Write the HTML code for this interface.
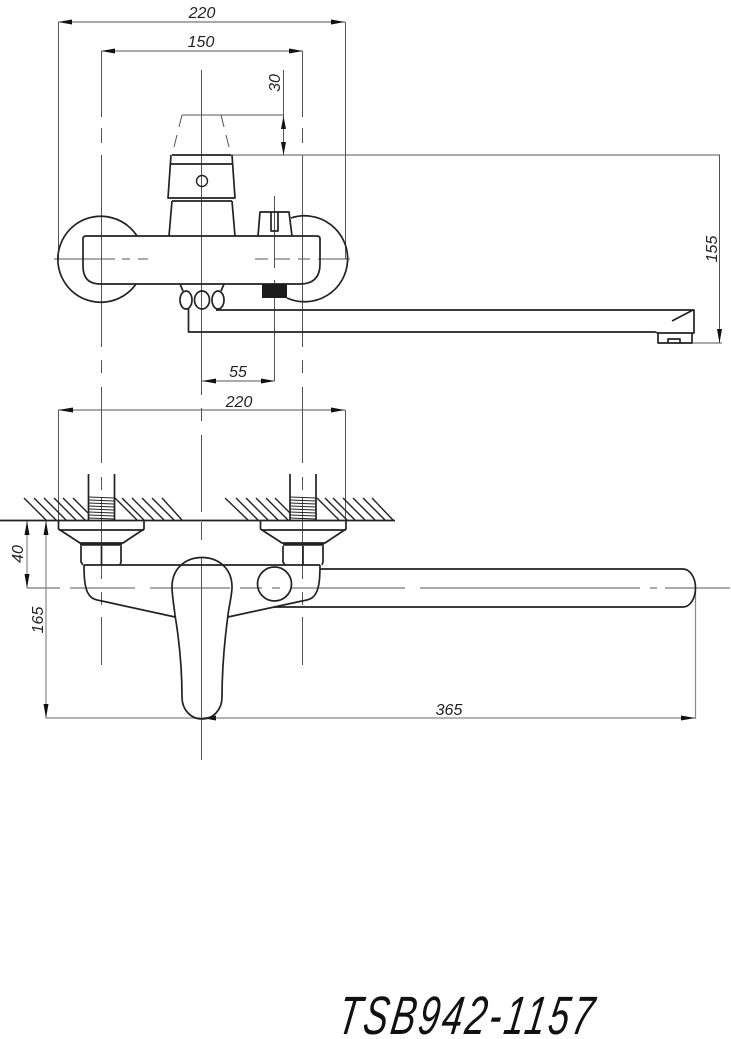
<!DOCTYPE html>
<html><head><meta charset="utf-8"><style>
html,body{margin:0;padding:0;background:#fff;width:731px;height:1039px;overflow:hidden}
svg{display:block}
text{font-family:"Liberation Sans",sans-serif;font-style:italic;fill:#222;font-size:16px}
.t{fill:none;stroke:#555;stroke-width:1}
.g{fill:none;stroke:#888;stroke-width:1.2}
.k{fill:none;stroke:#222;stroke-width:1.7;stroke-linejoin:round}
.h{fill:none;stroke:#222;stroke-width:1.4}
.a{fill:#111;stroke:none}
</style></head><body>
<svg width="731" height="1039" viewBox="0 0 731 1039" xmlns="http://www.w3.org/2000/svg">
<rect width="731" height="1039" fill="#fff"/>

<!-- Top view: dimension and centre lines -->
<path class="t" d="M58.5 22H345M101.5 51H302.5M58.5 22V259M345.5 22V259
M101.5 51V117M101.5 128V143M101.5 155V347M101.5 360V373M101.5 387V463M101.5 477V490M101.5 497V579M101.5 592V605M101.5 617V665
M302.5 51V117M302.5 128V143M302.5 155V347M302.5 360V373M302.5 387V463M302.5 477V490M302.5 497V579M302.5 592V605M302.5 617V665
M201.5 70V395M201.5 408V421M201.5 435V512M201.5 522V540M201.5 557V760
M283.5 70V155M182 115H283.5M231 155H720M719.5 155V343M692 343H722
M274.5 196V268M274.5 280V381M202 381H274.5
M54 259H115M122 259H130M138 259H148M255 259H268M275 259H290M298 259H310M318 259H350"/>
<path class="t" d="M182 115L179 127M177 135L174 147M221 115L224 127M226 135L229 147"/>
<!-- top-view arrows -->
<polygon class="a" points="58,22 72,19.5 72,24.5"/>
<polygon class="a" points="345,22 331,19.5 331,24.5"/>
<polygon class="a" points="101,51 115,48.5 115,53.5"/>
<polygon class="a" points="303,51 289,48.5 289,53.5"/>
<polygon class="a" points="283.5,116 281,129 286,129"/>
<polygon class="a" points="283.5,155 281,142 286,142"/>
<polygon class="a" points="719.5,343 717,329 722,329"/>
<polygon class="a" points="202,381 216,378.5 216,383.5"/>
<polygon class="a" points="275,381 261,378.5 261,383.5"/>

<!-- Top view: body -->
<path class="k" d="M172 155H231M171 164H232M171 155L168 198H235L232 155M172 201H232M172 201L169 236M232 201L235 236"/>
<circle class="h" cx="202" cy="181" r="5.5"/>
<path class="k" d="M86 236H317Q320 236 320 239V264Q320 284 300 284H100Q83 284 83 266V239Q83 236 86 236Z"/>
<path class="k" d="M137 236A43 43 0 1 0 136 284M291 218A43 43 0 1 1 287 298"/>
<path class="k" d="M258 236L260 212H289L292 236M271 212V231H278V212"/>
<rect x="262" y="284" width="25" height="14" fill="#1c1c1c"/>
<path class="k" d="M180 284L183 291M224 284L221 291"/>
<ellipse class="k" cx="186" cy="300" rx="6" ry="9"/>
<ellipse class="k" cx="202" cy="300" rx="7.5" ry="9"/>
<ellipse class="k" cx="218" cy="300" rx="6" ry="9"/>
<path class="k" d="M216 310H694V333H658L655 332H188.5V309M672 321L693 310M658 333V343H692V333M668 343V339H680V343"/>

<!-- Bottom view: dimensions -->
<path class="t" d="M58 410H345M58.5 410V520M345.5 410V520"/>
<polygon class="a" points="58,410 73,407.5 73,412.5"/>
<polygon class="a" points="345,410 331,407.5 331,412.5"/>
<path class="t" d="M27 588H60M70 588H135M150 588H230M240 588H262M272 588H280M290 588H405M420 588H640M650 588H657M665 588H730"/>
<path class="g" d="M27 521V588M46 521V718H695M695.5 590V719"/>
<polygon class="a" points="27,521 24.5,535 29.5,535"/>
<polygon class="a" points="27,588 24.5,574 29.5,574"/>
<polygon class="a" points="46,521 43.5,535 48.5,535"/>
<polygon class="a" points="46,718 43.5,704 48.5,704"/>
<polygon class="a" points="202,718 216,715.5 216,720.5"/>
<polygon class="a" points="695,718 681,715.5 681,720.5"/>

<!-- Wall and hatch -->
<path class="k" d="M0 520.5H395"/>
<path class="h" d="M24 498l22 22M34 498l22 22M44 498l22 22M54 498l22 22M63 498l22 22M73 498l15 15M115 498l22 22M122 498l22 22M132 498l22 22M142 498l22 22M152 498l22 22M162 498l20 22
M225 498l23 22M236 498l22 22M246 498l22 22M256 498l22 22M266 498l22 22M275 498l15 15M317 498l22 22M325 498l22 22M333 498l22 22M343 498l22 22M353 498l22 22M363 498l22 22M372 498l21 22"/>
<!-- Pipes -->
<path class="k" d="M88.5 474V520M114.5 474V520M290 474V520M316 474V520"/>
<path class="t" style="stroke:#222" d="M89 497L114 498M89 500L114 501M89 503L114 504M89 506L114 507M89 509L114 510M89 512L114 513M89 515L114 516M89 518L114 519
M290 497L316 498M290 500L316 501M290 503L316 504M290 506L316 507M290 509L316 510M290 512L316 513M290 515L316 516M290 518L316 519"/>
<!-- Flanges and nuts -->
<path class="k" d="M58.5 521V529L80 543H123L144 529V521M59 530H144M260.5 521V529L282 543H325L346 529V521M261 530H346"/>
<path d="M80 544.5H122M283 544.5H324" fill="none" stroke="#222" stroke-width="2.6"/>
<path class="k" d="M81 546V562L83 565M121 546V562L120 565M101.500 546V565M283 546V562L285 565M323 546V562L322 565M303 546V565"/>

<!-- Bottom view: body, spout, handle -->
<path class="k" d="M84 565H320M84 565C84 580 85 592 91 597C94 600 98 600 102 601L175 617M320 565C320 580 319 592 313 597C310 600 306 600 302 601L228 617"/>
<path class="k" d="M320 569H683A12.500 19 0 0 1 683 607H274"/>
<circle class="k" cx="274.500" cy="584" r="17" fill="#fff"/>
<path class="k" d="M172 587C172 568 186 557.500 202 557.500C218 557.500 232 568 232 587C232 595 229 606 228 615C224 645 222 675 222 697C222 710 213 719 202 719C191 719 182 710 182 697C182 675 180 645 175 615C174 606 172 595 172 587Z"/>

<!-- Labels -->
<text x="202" y="18" text-anchor="middle">220</text>
<text x="201" y="47" text-anchor="middle">150</text>
<text transform="translate(280 83) rotate(-90)" text-anchor="middle">30</text>
<text transform="translate(717 249) rotate(-90)" text-anchor="middle">155</text>
<text x="238" y="377" text-anchor="middle">55</text>
<text x="239" y="407" text-anchor="middle">220</text>
<text transform="translate(23 554) rotate(-90)" text-anchor="middle">40</text>
<text transform="translate(43 620) rotate(-90)" text-anchor="middle">165</text>
<text x="449" y="715" text-anchor="middle">365</text>

<text transform="translate(336 1034) skewX(-9) scale(.68 1)" style="font-size:54px;letter-spacing:4.5px;fill:#111">TSB942-1157</text>
</svg>
</body></html>
